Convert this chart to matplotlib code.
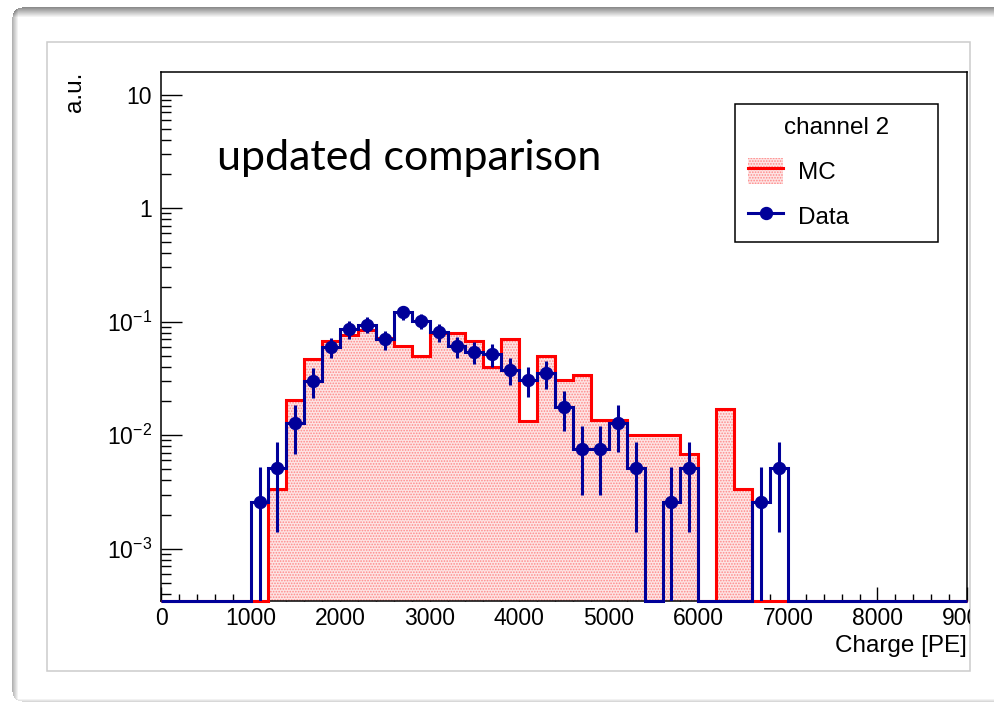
import numpy as np
import matplotlib
matplotlib.use("Agg")
import matplotlib.pyplot as plt
from matplotlib.patches import Patch, Rectangle
from matplotlib.lines import Line2D
from matplotlib.legend_handler import HandlerTuple
from matplotlib.ticker import FixedLocator, LogLocator, NullFormatter, MultipleLocator
from matplotlib.transforms import Bbox, TransformedBbox

# ---------------- data (bin contents, 200 PE bins from 0 to 9000) ----------------
bin_start = 0
bin_width = 200
n_bins = 45

mc_values = [0, 0, 0, 0, 0, 0, 0.00334, 0.0206, 0.0468, 0.0673,
             0.076, 0.085, 0.072, 0.061, 0.0497, 0.0787, 0.0787, 0.0673, 0.0395, 0.0697,
             0.0133, 0.0497, 0.0305, 0.0338, 0.01355, 0.01355, 0.0101, 0.0101, 0.0101, 0.0068,
             0, 0.01695, 0.00334, 0, 0, 0, 0, 0, 0, 0,
             0, 0, 0, 0, 0]

data_values = [0, 0, 0, 0, 0, 0.0026, 0.0051, 0.0127, 0.0301, 0.060,
               0.086, 0.0944, 0.0697, 0.1205, 0.1016, 0.0813, 0.0608, 0.0542, 0.0518, 0.0379,
               0.0305, 0.0354, 0.0178, 0.0075, 0.0075, 0.01285, 0.0051, 0, 0.0026, 0.0051,
               0, 0, 0, 0.0026, 0.0051, 0, 0, 0, 0, 0,
               0, 0, 0, 0, 0]

data_errors = [0, 0, 0, 0, 0, 0.0026, 0.0037, 0.0058, 0.0090, 0.0125,
               0.0150, 0.0156, 0.0135, 0.0176, 0.0162, 0.0145, 0.0125, 0.0119, 0.0116, 0.0101,
               0.0090, 0.0097, 0.0069, 0.0045, 0.0045, 0.0058, 0.0037, 0, 0.0026, 0.0037,
               0, 0, 0, 0.0026, 0.0037, 0, 0, 0, 0, 0,
               0, 0, 0, 0, 0]

x_tick_values = [0, 1000, 2000, 3000, 4000, 5000, 6000, 7000, 8000, 9000]
x_tick_labels = ["0", "1000", "2000", "3000", "4000", "5000", "6000", "7000", "8000", "9000"]
y_tick_values = [1e-3, 1e-2, 1e-1, 1, 10]
y_tick_labels = [r"$10^{-3}$", r"$10^{-2}$", r"$10^{-1}$", "1", "10"]

legend_title = "channel 2"
mc_label = "MC"
data_label = "Data"
x_title = "Charge [PE]"
y_title = "a.u."
note_text = "updated comparison"

# ---------------- style ----------------
plt.rcParams['font.family'] = ['Liberation Sans', 'DejaVu Sans']
plt.rcParams['mathtext.fontset'] = 'custom'
plt.rcParams['mathtext.rm'] = 'Liberation Sans'
plt.rcParams['mathtext.it'] = 'Liberation Sans:italic'
plt.rcParams['mathtext.bf'] = 'Liberation Sans:bold'
plt.rcParams['hatch.linewidth'] = 0.8

RED = '#ff0000'
BLUE = '#000099'
PINK_FACE = '#fde4e4'
PINK_HATCH = '#ff8888'

W, H = 994, 703
fig = plt.figure(figsize=(W / 100, H / 100), dpi=100)
fig.patch.set_facecolor('white')

# window-like background frame
yy, xx = np.mgrid[0:H, 0:W]
L, T, B, R, rad = 12, 7, 701, 1200, 10
cx = np.clip(xx, L + rad, R - rad)
cy = np.clip(yy, T + rad, B - rad)
inside = np.hypot(xx - cx, yy - cy) <= rad
shade = np.ones((H, W))
shade -= 0.45 * np.clip(1 - (yy - T) / 10.0, 0, 1)
shade -= 0.30 * np.clip(1 - (xx - L) / 6.0, 0, 1)
shade -= 0.15 * np.clip(1 - (B - yy) / 3.0, 0, 1)
shade = np.clip(shade, 0.5, 1.0)
shade[~inside] = 1.0
bg = np.dstack([shade, shade, shade])
fig.figimage(bg, xo=0, yo=0, origin='upper', zorder=-3)

fig.add_artist(Rectangle((47 / W, 1 - 671 / H), 923 / W, 629 / H, transform=fig.transFigure,
                         facecolor='white', edgecolor='#cccccc', linewidth=1.1, zorder=-2))

ax = fig.add_axes([161 / W, 1 - 601 / H, 806 / W, 529 / H])
ax.set_yscale('log')
ymin, ymax = 3.47e-4, 15.8
ax.set_xlim(0, 9000)
ax.set_ylim(ymin, ymax)

edges = bin_start + bin_width * np.arange(n_bins + 1)
centers = 0.5 * (edges[:-1] + edges[1:])
mc = np.array(mc_values, dtype=float)
dv = np.array(data_values, dtype=float)
de = np.array(data_errors, dtype=float)
mc_plot = np.where(mc > 0, mc, ymin)
dv_plot = np.where(dv > 0, dv, ymin)

# MC: hatched fill + red outline
ax.stairs(mc_plot, edges, fill=True, baseline=ymin, facecolor=PINK_FACE,
          edgecolor=PINK_HATCH, hatch='......', linewidth=0, zorder=2)
ax.stairs(mc_plot, edges, baseline=None, color=RED, linewidth=2.2, clip_on=False, zorder=3)

# Data: blue step line + error bars + markers
ax.stairs(dv_plot, edges, baseline=None, color=BLUE, linewidth=2.2, clip_on=False, zorder=4)
nz = dv > 0
lo = np.maximum(dv[nz] - de[nz], ymin)
hi = dv[nz] + de[nz]
ax.vlines(centers[nz], lo, hi, color=BLUE, linewidth=2.2, zorder=4)
ax.plot(centers[nz], dv[nz], 'o', color=BLUE, markersize=8.6, zorder=5)

# axes styling
for s in ax.spines.values():
    s.set_linewidth(1.1)
    s.set_color('black')
    s.set_zorder(2.5)

ax.xaxis.set_major_locator(FixedLocator(x_tick_values))
ax.set_xticklabels(x_tick_labels)
ax.xaxis.set_minor_locator(MultipleLocator(200))
ax.yaxis.set_major_locator(FixedLocator(y_tick_values))
ax.set_yticklabels(y_tick_labels)
ax.yaxis.set_minor_locator(LogLocator(base=10, subs=np.arange(2, 10)))
ax.yaxis.set_minor_formatter(NullFormatter())

ax.tick_params(axis='both', which='both', direction='in', top=False, right=False,
               width=1.0, color='black', labelsize=16.5)
ax.tick_params(axis='x', which='major', length=10, pad=4)
ax.tick_params(axis='x', which='minor', length=5)
ax.tick_params(axis='y', which='major', length=15, pad=6.5)
ax.tick_params(axis='y', which='minor', length=7.5)

# clip the last x tick label at the pad edge
clipbox = TransformedBbox(Bbox([[0, 0], [970 / W, 1]]), fig.transFigure)
for t in ax.xaxis.get_major_ticks():
    t.label1.set_clip_box(clipbox)
    t.label1.set_clip_on(True)

ax.set_xlabel(x_title, fontsize=17.5, ha='right', va='top')
ax.xaxis.set_label_coords(1.0, -0.064)
ax.set_ylabel(y_title, fontsize=17.5, ha='right', va='bottom')
ax.yaxis.set_label_coords(-0.093, 1.0)

# legend
mc_handle = (Patch(facecolor=PINK_FACE, edgecolor=PINK_HATCH, hatch='......', linewidth=0),
             Line2D([], [], color=RED, linewidth=2.2))
data_handle = Line2D([], [], color=BLUE, linewidth=2.2, marker='o', markersize=8.6)
leg = ax.legend([mc_handle, data_handle], [mc_label, data_label],
                handler_map={tuple: HandlerTuple(ndivide=1, pad=0)},
                title=legend_title, loc='upper left',
                bbox_to_anchor=(0.712, 0.9395, 0.252, 0), mode='expand',
                fontsize=17.5, title_fontsize=17.5, frameon=True, fancybox=False,
                framealpha=1, edgecolor='black', handlelength=1.45, handleheight=1.3,
                handletextpad=0.6, borderpad=0.55, labelspacing=0.75, borderaxespad=0)
leg.get_frame().set_linewidth(1.1)

fig.text(217 / W, 1 - 170 / H, note_text, fontsize=31, family=['Lato', 'DejaVu Sans'],
         va='baseline', ha='left', color='black')

fig.savefig('out.png', dpi=100)
